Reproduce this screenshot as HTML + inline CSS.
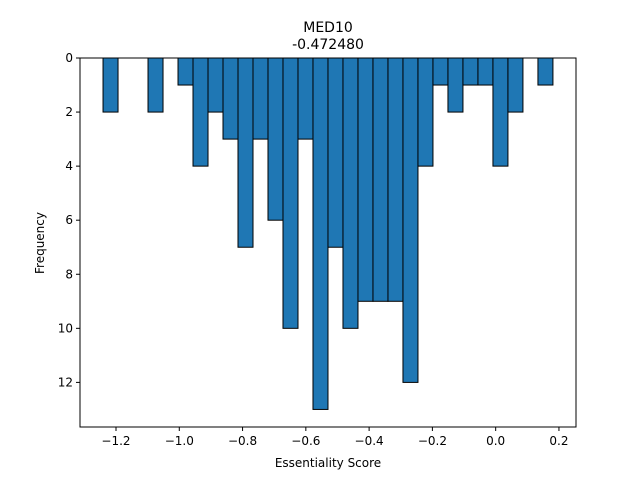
<!DOCTYPE html>
<html><head><meta charset="utf-8"><style>
body{margin:0;background:#fff;}
svg text{font-family:"DejaVu Sans","Liberation Sans",sans-serif;}
</style></head><body>
<svg id="chart" width="640" height="480" viewBox="0 0 640 480">
<rect width="640" height="480" fill="#fff"/>
<text x="328" y="32" text-anchor="middle" font-size="14">MED10</text>
<text x="328" y="49" text-anchor="middle" font-size="14">-0.472480</text>
<g id="bars"></g>
<g id="axes"></g>
<text x="328" y="467" text-anchor="middle" font-size="12">Essentiality Score</text>
<text transform="translate(44,243) rotate(-90)" text-anchor="middle" font-size="12">Frequency</text>
</svg>
<script>
const binStart = -1.241;
const binWidth = 0.0474;
const counts = [2,0,0,2,0,1,4,2,3,7,3,6,10,3,13,7,10,9,9,9,12,4,1,2,1,1,4,2,0,1];
const xTicks = [-1.2,-1.0,-0.8,-0.6,-0.4,-0.2,0.0,0.2];
const xTickLabels = ["−1.2","−1.0","−0.8","−0.6","−0.4","−0.2","0.0","0.2"];
const yTicks = [0,2,4,6,8,10,12];

const L=80,R=576,T=58,B=427;
const xMin=-1.3138,xMax=0.2539,yMin=0,yMax=13.65;
const sx=v=>L+(v-xMin)/(xMax-xMin)*(R-L);
const sy=v=>T+(v-yMin)/(yMax-yMin)*(B-T);
const NS="http://www.w3.org/2000/svg";
const bars=document.getElementById('bars');
counts.forEach((c,i)=>{
  if(c<=0) return;
  const x0=sx(binStart+i*binWidth), x1=sx(binStart+(i+1)*binWidth);
  const r=document.createElementNS(NS,'rect');
  r.setAttribute('x',x0);r.setAttribute('y',sy(0));
  r.setAttribute('width',x1-x0);r.setAttribute('height',sy(c)-sy(0));
  r.setAttribute('fill','#1f77b4');r.setAttribute('stroke','#000');r.setAttribute('stroke-width','1');
  
  
  bars.appendChild(r);
});
const ax=document.getElementById('axes');
let h='<rect x="'+L+'" y="'+T+'" width="'+(R-L)+'" height="'+(B-T)+'" fill="none" stroke="#000" stroke-width="1"/>';
xTicks.forEach((t,i)=>{const x=sx(t);
  h+='<line x1="'+x+'" y1="'+B+'" x2="'+x+'" y2="'+(B+4)+'" stroke="#000"/>';
  h+='<text x="'+x+'" y="'+(B+18)+'" text-anchor="middle" font-size="12">'+xTickLabels[i]+'</text>';});
yTicks.forEach(t=>{const y=sy(t);
  h+='<line x1="'+(L-4)+'" y1="'+y+'" x2="'+L+'" y2="'+y+'" stroke="#000"/>';
  h+='<text x="'+(L-7)+'" y="'+(y+4)+'" text-anchor="end" font-size="12">'+t+'</text>';});
ax.innerHTML=h;


</script>
</body></html>
